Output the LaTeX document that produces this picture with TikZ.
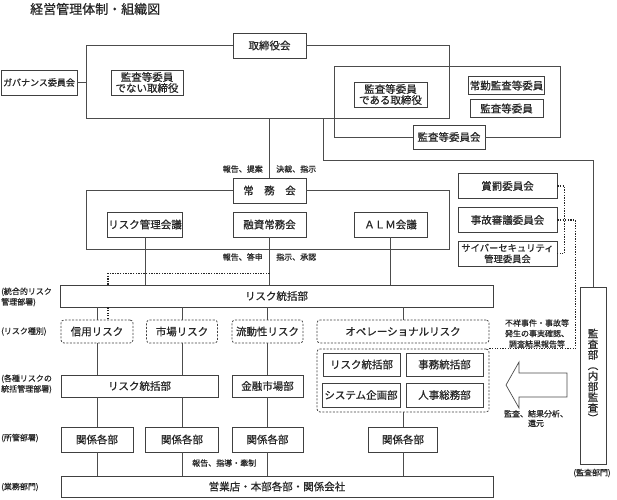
\documentclass[tikz,border=0pt]{standalone}
\usepackage{fontspec}
\setmainfont{Noto Sans CJK JP}[FakeBold=0.6]
\usetikzlibrary{positioning}

\tikzset{
  box/.style={rectangle,draw=black!75,line width=0.75pt,fill=white,text=black!85,inner sep=1pt,align=center,
    font=\fontsize{10.5}{11}\selectfont},
  riskbox/.style={box,rounded corners=3pt,dash pattern=on 2pt off 1.5pt},
  note/.style={inner sep=0pt,align=center,text=black!85,font=\fontsize{8}{10.5}\selectfont},
  side/.style={note,anchor=west,align=left},
  link/.style={draw=black!70,line width=0.6pt},
  dots/.style={draw=black!85,line width=1.2pt,dash pattern=on 1.3pt off 1.3pt},
}

\begin{document}
\begin{tikzpicture}[x=1pt,y=-1pt]
  \useasboundingbox (0,0) rectangle (617,499);

  \node[anchor=west,inner sep=0pt,text=black!85,font=\fontsize{13}{15}\selectfont] (title) at (30,9) {経営管理体制・組織図};

  % board and audit committee
  \node[box,minimum width=73,minimum height=25] (tori) at (269.5,45.5) {取締役会};
  \node[box,minimum width=76,minimum height=25,font=\fontsize{9}{11}\selectfont] (gov) at (39,82.5) {ガバナンス委員会};
  \node[box,minimum width=72,minimum height=25] (nondir) at (147,82.5) {監査等委員\\でない取締役};
  \node[box,minimum width=73,minimum height=25] (withdir) at (390.5,94.5) {監査等委員\\である取締役};
  \node[box,minimum width=73,minimum height=18] (fulltime) at (506.5,85.5) {常勤監査等委員};
  \node[box,minimum width=73,minimum height=18] (auditmem) at (506.5,108.5) {監査等委員};
  \node[box,minimum width=72,minimum height=24] (auditcom) at (449,137) {監査等委員会};

  \coordinate (bd-sw) at (86,118);
  \coordinate (bd-se) at (449,118);
  \coordinate (au-nw) at (334,66);
  \coordinate (au-ne) at (560,66);
  \draw[link] (tori.west) -| (bd-sw) -- (bd-se) |- (tori.east);
  \draw[link] (gov.east) -- (gov.east -| bd-sw);
  \draw[link] (auditcom.west) -| (au-nw) -- (au-ne) |- (auditcom.east);

  % executive committee
  \node[box,minimum width=73,minimum height=25] (jomu) at (269.5,190.5) {常　務　会};
  \node[box,minimum width=74,minimum height=25] (rmc) at (145,224.5) {リスク管理会議};
  \node[box,minimum width=73,minimum height=25] (yushi) at (269.5,224.5) {融資常務会};
  \node[box,minimum width=73,minimum height=25] (alm) at (390.5,224.5) {ＡＬＭ会議};

  \coordinate (jm-sw) at (86,249);
  \coordinate (jm-se) at (449,249);
  \draw[link] (jomu.west) -| (jm-sw) -- (jm-se) |- (jomu.east);
  \draw[link] (jomu.north) -- (jomu.north |- bd-sw);

  \node[note,anchor=east] (rep1) at (263,169) {報告、提案};
  \node[note,anchor=west] (dec1) at (276,169) {決裁、指示};
  \node[note,anchor=east] (rep2) at (263,257) {報告、答申};
  \node[note,anchor=west] (ins2) at (276,257) {指示、承認};

  % committees on the right
  \node[box,minimum width=99,minimum height=25] (shobatsu) at (507.5,186) {賞罰委員会};
  \node[box,minimum width=99,minimum height=25] (jiko) at (507.5,220) {事故審議委員会};
  \node[box,minimum width=99,minimum height=25,font=\fontsize{9.3}{11}\selectfont] (cyber) at (507.5,253.5) {サイバーセキュリティ\\管理委員会};

  % audit department
  \node[box,minimum width=26,minimum height=177,inner sep=0pt,font=\fontsize{10.5}{10.6}\selectfont] (kansa) at (593,375.5) {監\\査\\部\\︵\\内\\部\\監\\査\\︶};
  \node[note] (auditdiv) at (592,473) {(監査部門)};
  \coordinate (bd-tap) at (323,118);
  \coordinate (au-turn) at (323,160);
  \draw[link] (bd-tap) -- (au-turn) -| (kansa.north);

  % risk management
  \node[box,minimum width=433,minimum height=22] (riskhq) at (276.5,296) {リスク統括部};
  \node[riskbox,minimum width=72,minimum height=23] (shinyo) at (97,331.5) {信用リスク};
  \node[riskbox,minimum width=71,minimum height=23] (ichiba) at (182,331.5) {市場リスク};
  \node[riskbox,minimum width=71,minimum height=23] (ryudo) at (267.5,331.5) {流動性リスク};
  \node[riskbox,minimum width=172,minimum height=23] (ops) at (403,331.5) {オペレーショナルリスク};

  \node[box,minimum width=157,minimum height=22] (riskhq2) at (139.5,386) {リスク統括部};
  \node[box,minimum width=71,minimum height=22] (kinyu) at (267.5,386) {金融市場部};

  \node[riskbox,minimum width=172,minimum height=63] (opsgrp) at (403,380.5) {};
  \node[box,minimum width=77,minimum height=23] (rsk3) at (361.5,364.5) {リスク統括部};
  \node[box,minimum width=77,minimum height=23] (jimu) at (444.5,364.5) {事務統括部};
  \node[box,minimum width=78,minimum height=24] (system) at (361,395) {システム企画部};
  \node[box,minimum width=77,minimum height=24] (jinji) at (444.5,395) {人事総務部};

  \node[box,minimum width=72,minimum height=25] (kk1) at (97,439.5) {関係各部};
  \node[box,minimum width=73,minimum height=25] (kk2) at (182,439.5) {関係各部};
  \node[box,minimum width=71,minimum height=25] (kk3) at (267.5,439.5) {関係各部};
  \node[box,minimum width=69,minimum height=25] (kk4) at (403,439.5) {関係各部};

  \node[box,minimum width=432,minimum height=21] (eigyo) at (277,486.5) {営業店・本部各部・関係会社};

  \draw[link] (rmc.south) -- (rmc.south |- riskhq.north);
  \draw[link] (yushi.south) -- (yushi.south |- riskhq.north);
  \draw[link] (alm.south) -- (alm.south |- riskhq.north);
  \foreach \r in {shinyo,ichiba,ryudo,ops}
    \draw[link] (\r.north) -- (\r.north |- riskhq.south);
  \draw[link] (shinyo.south) -- (shinyo.south |- riskhq2.north);
  \draw[link] (ichiba.south) -- (ichiba.south |- riskhq2.north);
  \draw[link] (ryudo.south) -- (kinyu.north);
  \draw[link] (kk1.north) -- (kk1.north |- riskhq2.south);
  \draw[link] (kk2.north) -- (kk2.north |- riskhq2.south);
  \draw[link] (kk3.north) -- (kinyu.south);
  \draw[link] (kk4.north) -- (kk4.north |- opsgrp.south);
  \foreach \k in {kk1,kk2,kk3,kk4}
    \draw[link] (\k.south) -- (\k.south |- eigyo.north);

  % dotted reporting lines
  \coordinate (dt-top) at ([yshift=-36pt]yushi.south);
  \coordinate (dt-bot) at ([xshift=11pt]shinyo.north);
  \draw[dots] (dt-top) -| (dt-bot |- riskhq.north);
  \draw[dots] (dt-bot |- riskhq.south) -- (dt-bot);
  \draw[dots] (shobatsu.east) -- ++(7,0) |- (cyber.east);
  \draw[dots] (jiko.east) -- ++(18,0) |- (opsgrp.north east);

  \node[note] (incident) at (537,333.5) {不祥事件・事故等\\発生の事実確認、\\調査結果報告等};

  % audit feedback arrow
  \draw[draw=black!70,line width=0.7pt,fill=white] (506,385) -- (519,362) -- (519,373) -- (567,373)
    -- (567,397) -- (519,397) -- (519,408) -- cycle;
  \node[note,font=\fontsize{8}{9.5}\selectfont] (feedback) at (536,418.5) {監査、結果分析、\\還元};

  \node[note,anchor=west] (guide) at (192,463) {報告、指導・牽制};

  % row captions
  \node[side] (cap1) at (1,297) {(統合的リスク\\管理部署)};
  \node[side] (cap2) at (1,331.5) {(リスク種別)};
  \node[side] (cap3) at (1,384) {(各種リスクの\\統括管理部署)};
  \node[side] (cap4) at (1,438) {(所管部署)};
  \node[side] (cap5) at (1,487) {(業務部門)};
\end{tikzpicture}
\end{document}
